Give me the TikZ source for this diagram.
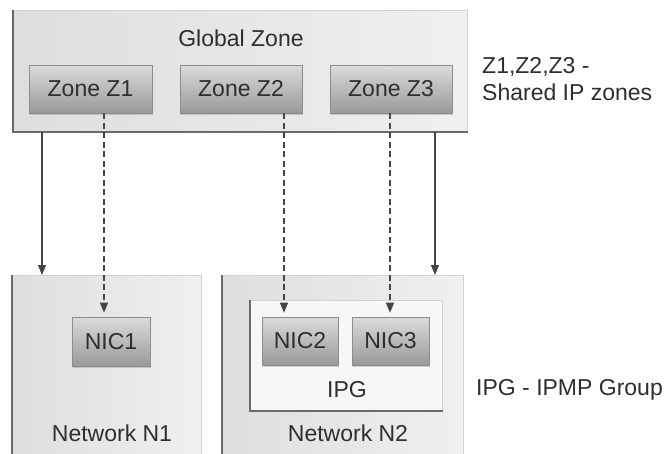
\documentclass[tikz,border=0pt]{standalone}
\usepackage{fontspec}
\setmainfont{Liberation Sans}
\usetikzlibrary{arrows.meta,shadows}
\definecolor{txt}{HTML}{2E2E2E}
\definecolor{edgedark}{HTML}{6A6A6A}
\definecolor{edgelight}{HTML}{D2D2D2}
\definecolor{arr}{HTML}{454545}
\tikzset{
  x=1pt, y=-1pt,
  lbl/.style={font=\fontsize{23}{27}\selectfont, text=txt, inner sep=0pt},
  panel/.style={draw=edgelight, line width=0.8pt, left color=black!13, right color=black!6, inner sep=0pt, anchor=north west},
  inner/.style={draw=edgelight, line width=0.8pt, fill=black!3, inner sep=0pt, anchor=north west},
  chip/.style={draw=black!45, line width=0.6pt, top color=black!14, bottom color=black!40, inner sep=0pt,
    font=\fontsize{23}{27}\selectfont, text=txt, drop shadow={shadow xshift=1pt, shadow yshift=-1.5pt, opacity=0.35}},
  solidarrow/.style={draw=arr, line width=1.1pt, -{Triangle[width=8pt,length=10pt]}},
  dasharrow/.style={draw=arr, line width=1.1pt, dash pattern=on 6pt off 3.5pt, -{Triangle[width=8pt,length=10pt]}},
  darkedge/.style={draw=edgedark, line width=1.4pt}
}
\begin{document}
\begin{tikzpicture}
\useasboundingbox (0,0) rectangle (672,453);
% Global zone
\node[panel, minimum width=454pt, minimum height=121pt] (global) at (13,10) {};
\draw[darkedge] (global.north west) -- (global.south west) -- (global.south east);
\node[lbl] (gtitle) at (241,38) {Global Zone};
\node[chip, minimum width=123pt, minimum height=48pt] (z1) at (90.5,89) {Zone Z1};
\node[chip, minimum width=122pt, minimum height=48pt] (z2) at (241,89) {Zone Z2};
\node[chip, minimum width=122pt, minimum height=48pt] (z3) at (391,89) {Zone Z3};
\node[lbl, anchor=west, align=left] (note1) at (482,79) {Z1,Z2,Z3 -\\Shared IP zones};
% Networks
\node[panel, minimum width=189pt, minimum height=185pt] (n1) at (12,275) {};
\draw[darkedge] (n1.south west) -- (n1.north west);
\node[panel, minimum width=241pt, minimum height=185pt] (n2) at (222,275) {};
\draw[darkedge] (n2.south west) -- (n2.north west);
\node[lbl] (n1lbl) at (112,433) {Network N1};
\node[lbl] (n2lbl) at (348,433) {Network N2};
% IPG
\node[inner, minimum width=192pt, minimum height=110pt] (ipg) at (250,300) {};
\draw[darkedge] (ipg.north west) -- (ipg.south west) -- (ipg.south east);
\node[lbl] (ipglbl) at (347,390) {IPG};
\node[lbl, anchor=west] (note2) at (476,390) {IPG - IPMP Group};
% NICs
\node[chip, minimum width=78pt, minimum height=49pt] (nic1) at (111,341.5) {NIC1};
\node[chip, minimum width=76pt, minimum height=48pt] (nic2) at (300,341) {NIC2};
\node[chip, minimum width=77pt, minimum height=48pt] (nic3) at (390.5,341) {NIC3};
% connector x positions
\coordinate (c1) at (104,0);
\coordinate (c2) at (284,0);
\coordinate (c3) at (390,0);
\coordinate (s1) at (42,0);
\coordinate (s2) at (435,0);
% arrows
\draw[solidarrow] (global.south -| s1) -- (n1.north -| s1);
\draw[solidarrow] (global.south -| s2) -- (n2.north -| s2);
\draw[dasharrow] (z1.south -| c1) -- ([yshift=4pt]nic1.north -| c1);
\draw[dasharrow] (z2.south -| c2) -- ([yshift=4pt]nic2.north -| c2);
\draw[dasharrow] (z3.south -| c3) -- ([yshift=4pt]nic3.north -| c3);
\end{tikzpicture}
\end{document}
